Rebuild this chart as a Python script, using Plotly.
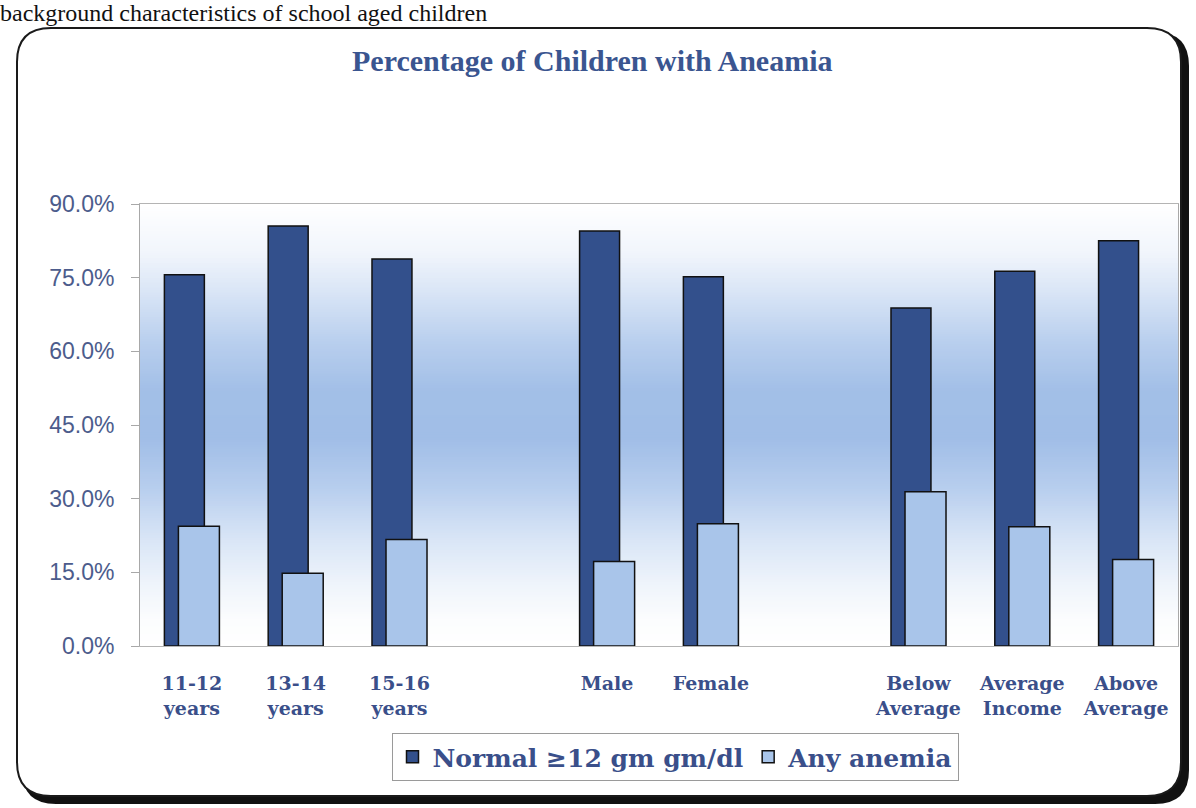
import plotly.graph_objects as go

# ---- data -------------------------------------------------------------
categories = ["11-12<br>years", "13-14<br>years", "15-16<br>years",
              "Male", "Female",
              "Below<br>Average", "Average<br>Income", "Above<br>Average"]
# category order on the axis, with empty spacer slots between the groups
axis_order = [categories[0], categories[1], categories[2], " ",
              categories[3], categories[4], "  ",
              categories[5], categories[6], categories[7]]
normal_pct = [75.6, 85.5, 78.8, 84.5, 75.2, 68.8, 76.3, 82.5]
anemia_pct = [24.4, 14.8, 21.7, 17.2, 24.9, 31.4, 24.3, 17.6]
y_ticks = [0, 15, 30, 45, 60, 75, 90]
y_tick_text = [f"{t:.1f}%" for t in y_ticks]

# ---- geometry ---------------------------------------------------------
FIG_W, FIG_H = 1196, 808
M_L, M_R, M_T, M_B = 140, 18, 204, 162
PW = FIG_W - M_L - M_R
PH = FIG_H - M_T - M_B


def px_x(px):
    return (px - M_L) / PW


def px_y(py):
    return (FIG_H - M_B - py) / PH


def rounded_rect(x0, y0, x1, y1, r):
    """Rounded rectangle path in paper units from pixel coordinates."""
    X0, X1 = px_x(x0), px_x(x1)
    Y0, Y1 = px_y(y0), px_y(y1)          # Y0 is top, Y1 is bottom
    rx, ry = r / PW, r / PH
    return (f"M{X0 + rx},{Y0} L{X1 - rx},{Y0} Q{X1},{Y0} {X1},{Y0 - ry} "
            f"L{X1},{Y1 + ry} Q{X1},{Y1} {X1 - rx},{Y1} "
            f"L{X0 + rx},{Y1} Q{X0},{Y1} {X0},{Y1 + ry} "
            f"L{X0},{Y0 - ry} Q{X0},{Y0} {X0 + rx},{Y0} Z")


def hex_to_rgb(h):
    h = h.lstrip("#")
    return tuple(int(h[i:i + 2], 16) for i in (0, 2, 4))


# vertical background wash of the plot area (value -> colour)
wash_stops = [(0, "#ffffff"), (5, "#fcfdfe"), (12, "#f0f5fb"), (22, "#d8e5f6"),
              (32, "#b8ceee"), (42, "#a1bee7"), (52, "#a2bfe7"), (62, "#b9cfee"),
              (72, "#d9e5f6"), (80, "#f1f5fc"), (90, "#ffffff")]


def wash_color(v):
    for (v0, c0), (v1, c1) in zip(wash_stops[:-1], wash_stops[1:]):
        if v0 <= v <= v1:
            t = (v - v0) / (v1 - v0)
            a, b = hex_to_rgb(c0), hex_to_rgb(c1)
            return "rgb({},{},{})".format(*[round(a[i] + (b[i] - a[i]) * t) for i in range(3)])
    return "#ffffff"


shapes = [
    # drop shadow of the frame
    dict(type="path", xref="paper", yref="paper", layer="below",
         path=rounded_rect(22, 32, 1189, 804, 34),
         fillcolor="#111111", line=dict(width=0)),
    # frame
    dict(type="path", xref="paper", yref="paper", layer="below",
         path=rounded_rect(17, 28, 1181, 796, 34),
         fillcolor="#ffffff", line=dict(color="#1a1a1a", width=2)),
]
# wash strips overlap each other so no seams show between them
step = 0.5
v = 0.0
while v < 90:
    shapes.append(dict(type="rect", xref="paper", yref="y", layer="below",
                       x0=0, x1=1, y0=v, y1=min(v + step + 0.6, 90),
                       fillcolor=wash_color(v + step / 2), line=dict(width=0)))
    v += step

# ---- figure -----------------------------------------------------------
NAVY = "#33508c"
LIGHT = "#a9c5ea"
TEXT_BLUE = "#3a4f8a"

fig = go.Figure()
fig.add_trace(go.Bar(
    x=categories, y=normal_pct, name="Normal ≥12 gm gm/dl",
    marker=dict(color=NAVY, line=dict(color="#111111", width=1.5)),
    width=0.385, offset=-0.265,
))
fig.add_trace(go.Bar(
    x=categories, y=anemia_pct, name="Any anemia",
    marker=dict(color=LIGHT, line=dict(color="#111111", width=1.5)),
    width=0.395, offset=-0.13,
))

fig.update_layout(
    width=FIG_W, height=FIG_H,
    margin=dict(l=M_L, r=M_R, t=M_T, b=M_B),
    paper_bgcolor="#ffffff",
    plot_bgcolor="rgba(0,0,0,0)",
    barmode="overlay",
    showlegend=True,
    shapes=shapes,
    legend=dict(
        orientation="h", x=px_x(675), xanchor="center", y=px_y(733), yanchor="top",
        bgcolor="#ffffff", bordercolor="#9a9a9a", borderwidth=1,
        font=dict(family="DejaVu Serif", size=25, color=TEXT_BLUE, weight="bold"),
        itemwidth=30, tracegroupgap=0,
    ),
    xaxis=dict(
        type="category", categoryorder="array", categoryarray=axis_order,
        range=[-0.5, 9.5],
        showline=True, linecolor="#b4b4b4", linewidth=1, mirror=True,
        showgrid=False, ticks="", ticklabelstandoff=20,
        tickfont=dict(family="DejaVu Serif", size=19, color=TEXT_BLUE, weight="bold"),
    ),
    yaxis=dict(
        range=[0, 90], tickvals=y_ticks, ticktext=y_tick_text,
        showline=True, linecolor="#a8a8a8", linewidth=1, mirror=True,
        showgrid=False, zeroline=False,
        ticks="outside", ticklen=8, tickcolor="#a8a8a8", ticklabelstandoff=12,
        tickfont=dict(family="Liberation Sans", size=23, color="#4c5c8c"),
    ),
    annotations=[
        dict(text="Percentage of Children with Aneamia", xref="paper", yref="paper",
             x=px_x(592), y=px_y(60), xanchor="center", yanchor="middle",
             showarrow=False,
             font=dict(family="Liberation Serif", size=30, color="#3a5590", weight="bold")),
        dict(text="background characteristics of school aged children",
             xref="paper", yref="paper", x=px_x(-2), y=px_y(-2),
             xanchor="left", yanchor="top", showarrow=False,
             font=dict(family="Liberation Serif", size=24, color="#111111")),
    ],
)

fig.write_html("out.html")
